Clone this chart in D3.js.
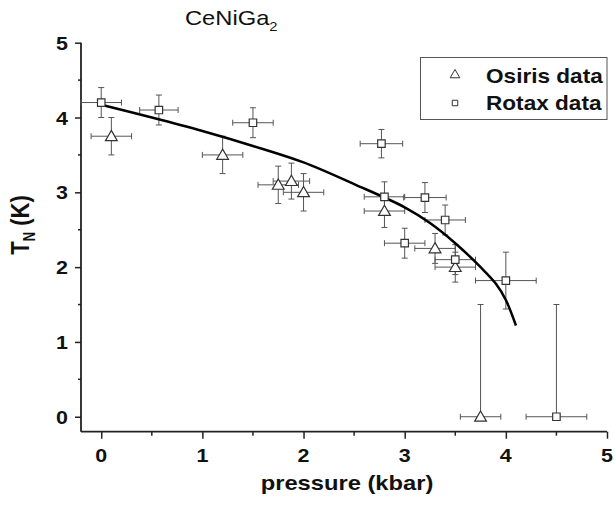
<!DOCTYPE html>
<html>
<head>
<meta charset="utf-8">
<script src="https://cdn.jsdelivr.net/npm/d3@7"></script>
<style>
body{margin:0;background:#fff;}
text{font-family:"Liberation Sans",Arial,sans-serif;}
</style>
</head>
<body>
<div id="chart"></div>
<script>
// Osiris data (triangles): pressure, T_N, x error, y error (up), y error (down)
osirisP   = [0.1, 1.2, 1.75, 1.88, 2.0, 2.8, 3.3, 3.5, 3.75];
osirisT   = [3.75, 3.5, 3.1, 3.15, 3.0, 2.75, 2.25, 2.0, 0];
osirisXe  = [0.2, 0.2, 0.2, 0.18, 0.2, 0.2, 0.2, 0.2, 0.2];
osirisYe  = [0.25, 0.25, 0.25, 0.24, 0.25, 0.22, 0.2, 0.2, 1.5];
osirisYlo = [0.25, 0.25, 0.25, 0.24, 0.25, 0.22, 0.2, 0.2, 0];

// Rotax data (squares)
rotaxP   = [0, 0.57, 1.5, 2.77, 2.8, 3.2, 3.4, 3.0, 3.5, 4.0, 4.5];
rotaxT   = [4.2, 4.1, 3.93, 3.65, 2.94, 2.93, 2.63, 2.32, 2.1, 1.82, 0];
rotaxXe  = [0.2, 0.19, 0.2, 0.21, 0.2, 0.21, 0.2, 0.2, 0.2, 0.3, 0.3];
rotaxYe  = [0.2, 0.2, 0.2, 0.19, 0.2, 0.2, 0.2, 0.2, 0.2, 0.38, 1.5];
rotaxYlo = [0.2, 0.2, 0.2, 0.19, 0.2, 0.2, 0.2, 0.2, 0.2, 0.38, 0];

// fit curve
fitP = [0, 0.5, 1, 1.5, 2, 2.5, 3, 3.25, 3.5, 3.75, 3.9, 4.0, 4.1];
fitT = [4.17, 4.0, 3.82, 3.62, 3.4, 3.11, 2.8, 2.59, 2.32, 2.0, 1.78, 1.56, 1.22];

xTicks = [0, 1, 2, 3, 4, 5];
yTicks = [0, 1, 2, 3, 4, 5];

let width = 614, height = 507;
let stretch = 1.13; // the original figure is a bit wider than tall
let svg = d3.select('#chart').append('svg').attr('width', width).attr('height', height);

let x = d3.scaleLinear().domain([-0.2, 5]).range([81, 607]);
let y = d3.scaleLinear().domain([-0.2, 5]).range([431.7, 42.7]);

let axisColor = '#222';
let barColor = '#555';

// puts a text at (tx,ty) stretched horizontally
function label(g, tx, ty, size, bold, anchor){
	return g.append('text')
		.attr('transform', 'translate(' + tx + ',' + ty + ') scale(' + stretch + ',1)')
		.attr('font-size', size).attr('font-weight', bold ? 'bold' : 'normal')
		.attr('text-anchor', anchor || 'start').attr('fill', '#111');
}

// axes
let xAxis = svg.append('g').attr('transform', 'translate(0,' + y(-0.2) + ')')
	.call(d3.axisBottom(x).tickValues(xTicks).tickSize(7).tickFormat(''));
xAxis.selectAll('line').attr('stroke', axisColor).attr('stroke-width', 1.5);
xAxis.select('.domain').attr('d', 'M' + x(-0.2) + ',0H' + x(5)).attr('stroke', axisColor).attr('stroke-width', 1.8);
xAxis.selectAll('.minor').data([0.5, 1.5, 2.5, 3.5, 4.5]).enter().append('line').attr('class', 'minor')
	.attr('x1', d => x(d)).attr('x2', d => x(d)).attr('y1', 0).attr('y2', 4)
	.attr('stroke', axisColor).attr('stroke-width', 1.5);
xTicks.forEach(function(t){
	label(svg, x(t), 462, 19, true, 'middle').text(t);
});

let yAxis = svg.append('g').attr('transform', 'translate(' + x(-0.2) + ',0)')
	.call(d3.axisLeft(y).tickValues(yTicks).tickSize(6).tickFormat(''));
yAxis.selectAll('line').attr('stroke', axisColor).attr('stroke-width', 1.5);
yAxis.select('.domain').attr('d', 'M0,' + y(-0.2) + 'V' + y(5)).attr('stroke', axisColor).attr('stroke-width', 1.8);
yAxis.selectAll('.minor').data([0.5, 1.5, 2.5, 3.5, 4.5]).enter().append('line').attr('class', 'minor')
	.attr('y1', d => y(d)).attr('y2', d => y(d)).attr('x1', 0).attr('x2', -3)
	.attr('stroke', axisColor).attr('stroke-width', 1.5);
yTicks.forEach(function(t){
	label(svg, 68, y(t) + 7, 19, true, 'end').text(t);
});

// error bars
function errorBars(P, T, Xe, Ye, Ylo){
	let g = svg.append('g').attr('stroke', barColor).attr('stroke-width', 1).attr('fill', 'none');
	P.forEach(function(p, i){
		let cx = x(p), cy = y(T[i]);
		let x0 = x(p - Xe[i]), x1 = x(p + Xe[i]);
		let y0 = y(T[i] + Ye[i]), y1 = y(T[i] - Ylo[i]);
		g.append('line').attr('x1', x0).attr('x2', x1).attr('y1', cy).attr('y2', cy);
		g.append('line').attr('x1', x0).attr('x2', x0).attr('y1', cy - 3).attr('y2', cy + 3);
		g.append('line').attr('x1', x1).attr('x2', x1).attr('y1', cy - 3).attr('y2', cy + 3);
		g.append('line').attr('x1', cx).attr('x2', cx).attr('y1', y0).attr('y2', y1);
		g.append('line').attr('x1', cx - 3).attr('x2', cx + 3).attr('y1', y0).attr('y2', y0);
		if(Ylo[i] > 0){
			g.append('line').attr('x1', cx - 3).attr('x2', cx + 3).attr('y1', y1).attr('y2', y1);
		}
	});
}
errorBars(osirisP, osirisT, osirisXe, osirisYe, osirisYlo);
errorBars(rotaxP, rotaxT, rotaxXe, rotaxYe, rotaxYlo);

// fit line
let fit = fitP.map((p, i) => [p, fitT[i]]);
svg.append('path').datum(fit)
	.attr('d', d3.line().x(d => x(d[0])).y(d => y(d[1])).curve(d3.curveCatmullRom))
	.attr('fill', 'none').attr('stroke', '#000').attr('stroke-width', 2.5);

// markers
let tri = d3.symbol().type(d3.symbolTriangle).size(60);
let sq = d3.symbol().type(d3.symbolSquare).size(56);
svg.append('g').selectAll('path').data(osirisP).enter().append('path')
	.attr('d', tri).attr('transform', (d, i) => 'translate(' + x(d) + ',' + (y(osirisT[i]) + 1) + ')')
	.attr('fill', '#fff').attr('stroke', '#333').attr('stroke-width', 1.2);
svg.append('g').selectAll('path').data(rotaxP).enter().append('path')
	.attr('d', sq).attr('transform', (d, i) => 'translate(' + x(d) + ',' + y(rotaxT[i]) + ')')
	.attr('fill', '#fff').attr('stroke', '#333').attr('stroke-width', 1.2);

// legend
let lg = svg.append('g');
lg.append('rect').attr('x', 420.5).attr('y', 57.5).attr('width', 186.5).attr('height', 62)
	.attr('fill', '#fff').attr('stroke', '#555').attr('stroke-width', 1);
lg.append('path').attr('d', d3.symbol().type(d3.symbolTriangle).size(40)).attr('transform', 'translate(455,75)')
	.attr('fill', '#fff').attr('stroke', '#333').attr('stroke-width', 1);
lg.append('path').attr('d', d3.symbol().type(d3.symbolSquare).size(30)).attr('transform', 'translate(455,103)')
	.attr('fill', '#fff').attr('stroke', '#333').attr('stroke-width', 1);
label(lg, 486, 83, 20, true).text('Osiris data');
label(lg, 486, 110, 20, true).text('Rotax data');

// titles
let title = label(svg, 185, 25, 21, false);
title.append('tspan').text('CeNiGa');
title.append('tspan').attr('font-size', 13).attr('dy', 6).text('2');

label(svg, 347, 490, 21, true, 'middle').text('pressure (kbar)');

let yl = svg.append('text').attr('transform', 'translate(29,225) scale(1.2,1) rotate(-90)').attr('text-anchor', 'middle')
	.attr('font-size', 22).attr('font-weight', 'bold').attr('fill', '#111');
yl.append('tspan').text('T');
yl.append('tspan').attr('font-size', 13).attr('dy', 5).text('N');
yl.append('tspan').attr('dy', -5).text(' (K)');
</script>
</body>
</html>
